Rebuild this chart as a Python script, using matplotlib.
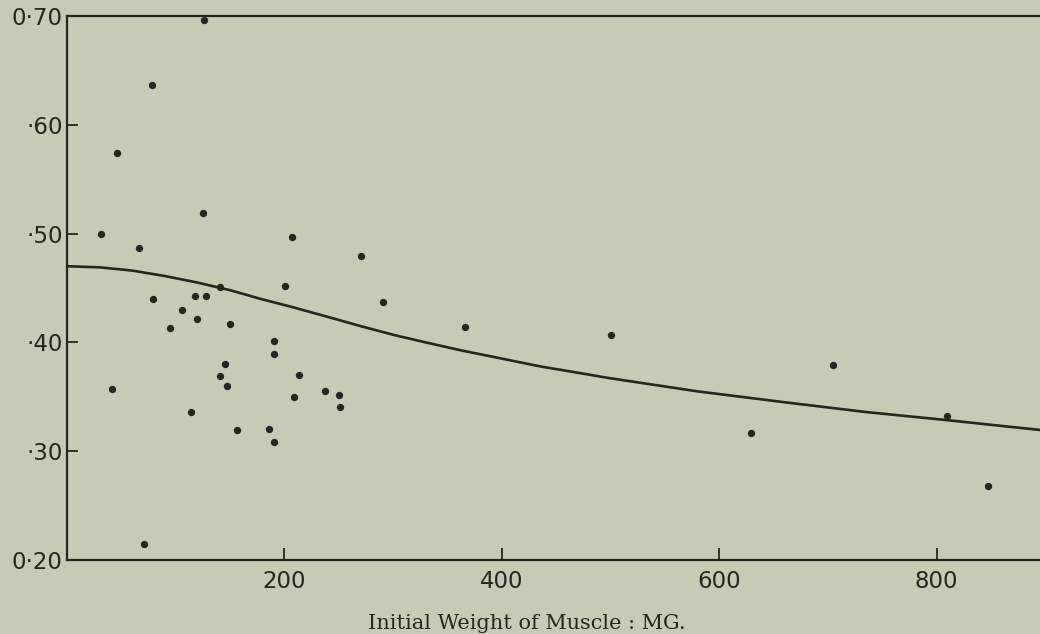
import matplotlib
matplotlib.use("Agg")
from matplotlib import pyplot as plt

# scatter readings: initial weight (mg) vs ratio
weight = [125.7, 77.9, 46.3, 125.0, 31.0, 66.5, 206.6, 270.0, 200.4, 140.7,
          290.3, 78.8, 118.0, 127.8, 106.0, 119.8, 95.0, 150.2, 190.6, 190.6,
          145.6, 141.0, 146.8, 213.0, 41.1, 237.5, 250.0, 251.0, 208.5, 114.0,
          156.0, 186.0, 190.0, 71.0, 365.7, 500.5, 629.6, 705.0, 809.8, 847.1]
ratio = [0.696, 0.637, 0.574, 0.519, 0.500, 0.487, 0.497, 0.479, 0.452, 0.451,
         0.4375, 0.440, 0.443, 0.443, 0.430, 0.4215, 0.413, 0.417, 0.401, 0.389,
         0.380, 0.3695, 0.360, 0.370, 0.357, 0.3556, 0.3517, 0.3406, 0.350, 0.3363,
         0.3195, 0.3207, 0.3088, 0.2145, 0.414, 0.4068, 0.3165, 0.3795, 0.3326, 0.2683]

# fitted curve
curve_x = [0, 30, 60, 90, 120, 150, 178, 209, 239, 270, 300, 330, 361,
           398, 435, 500, 580, 660, 735, 810, 895]
curve_y = [0.470, 0.469, 0.466, 0.461, 0.455, 0.448, 0.440, 0.432, 0.4237,
           0.415, 0.407, 0.400, 0.393, 0.3855, 0.378, 0.367, 0.355, 0.345,
           0.336, 0.3285, 0.3195]

yticks = [0.20, 0.30, 0.40, 0.50, 0.60, 0.70]
ylabels = ["0\u00b720", "\u00b730", "\u00b740", "\u00b750", "\u00b760", "0\u00b770"]
xticks = [200, 400, 600, 800]
xlabels = ["200", "400", "600", "800"]

paper = "#c7cab5"
ink = "#26261f"

fig = plt.figure(figsize=(10.4, 6.34), dpi=100, facecolor=paper)
ax = fig.add_axes([0.0644, 0.1167, 0.9356, 0.8581], facecolor=paper)

ax.plot(curve_x, curve_y, color=ink, lw=1.9, solid_capstyle="round")
ax.scatter(weight, ratio, s=28, color=ink, zorder=3, linewidths=0)

ax.set_xlim(0, 895)
ax.set_ylim(0.20, 0.70)

ax.set_xticks(xticks)
ax.set_xticklabels(xlabels)
ax.set_yticks(yticks)
ax.set_yticklabels(ylabels)

ax.tick_params(axis="both", direction="in", color=ink, labelcolor=ink,
               labelsize=16.5, width=1.3)
ax.tick_params(axis="x", length=9, pad=7)
ax.tick_params(axis="y", length=8, pad=3)

for side in ["left", "top", "bottom"]:
    ax.spines[side].set_color(ink)
    ax.spines[side].set_linewidth(1.6)
ax.spines["right"].set_visible(False)

fig.text(0.507, 0.008, "Initial Weight of Muscle : MG.", ha="center", va="baseline",
         fontsize=15, color=ink, family="DejaVu Serif")

fig.savefig("out.png", dpi=100, facecolor=paper)
